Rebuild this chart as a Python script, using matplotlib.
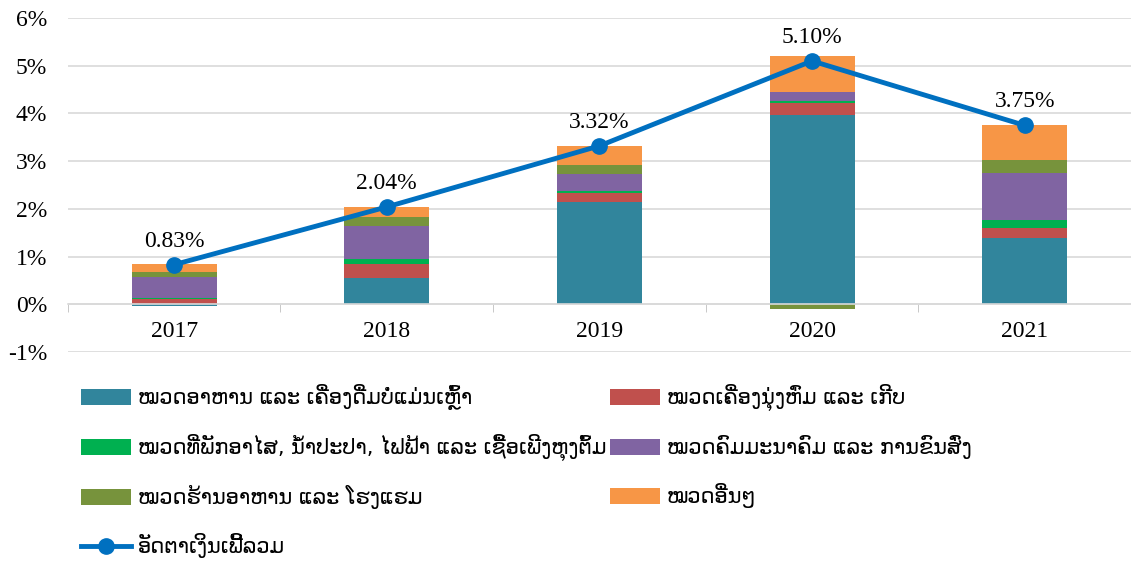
import matplotlib.pyplot as plt
import numpy as np

years = ['2017', '2018', '2019', '2020', '2021']
labels = ['ໝວດອາຫານ ແລະ ເຄື່ອງດື່ມບໍ່ແມ່ນເຫຼົ້າ',
          'ໝວດເຄື່ອງນຸ່ງຫົ່ມ ແລະ ເກີບ',
          'ໝວດທີ່ພັກອາໄສ, ນ້ຳປະປາ, ໄຟຟ້າ ແລະ ເຊື້ອເພີງຫຸງຕົ້ມ',
          'ໝວດຄົມມະນາຄົມ ແລະ ການຂົນສົ່ງ',
          'ໝວດຮ້ານອາຫານ ແລະ ໂຮງແຮມ',
          'ໝວດອື່ນໆ']
line_label = 'ອັດຕາເງິນເຟີ້ລວມ'

food = [-0.03, 0.56, 2.15, 3.97, 1.38]
clothing = [0.10, 0.29, 0.19, 0.25, 0.21]
housing = [0.03, 0.10, 0.04, 0.04, 0.17]
transport = [0.45, 0.68, 0.35, 0.18, 0.99]
restaurant = [0.10, 0.20, 0.18, -0.09, 0.27]
other = [0.16, 0.20, 0.41, 0.76, 0.73]
inflation = [0.83, 2.04, 3.32, 5.10, 3.75]

colors = ['#31859C', '#C0504D', '#00B050', '#8064A2', '#77933C', '#F79646']

plt.rcParams['font.family'] = ['Liberation Serif', 'DejaVu Sans']

fig = plt.figure(figsize=(11.31, 5.64), dpi=100)
ax = fig.add_axes([0.060, 0.376, 0.940, 0.592])

x = np.arange(len(years))
series = [food, clothing, housing, transport, restaurant, other]
pos = np.zeros(len(years))
neg = np.zeros(len(years))
bars = []
for vals, c, lab in zip(series, colors, labels):
    v = np.array(vals)
    bottom = np.where(v >= 0, pos, neg)
    b = ax.bar(x, v, 0.4, bottom=bottom, color=c, label=lab, zorder=2)
    bars.append(b)
    pos = pos + np.where(v >= 0, v, 0)
    neg = neg + np.where(v < 0, v, 0)

ln, = ax.plot(x, inflation, color='#0070C0', lw=3.5, marker='o', ms=11, zorder=3, label=line_label)
for xi, yi in zip(x, inflation):
    ax.annotate(f'{yi:.2f}%', (xi, yi), xytext=(0, 17), textcoords='offset points',
                ha='center', va='center', fontsize=17)

ax.set_xlim(-0.5, 4.5)
ax.set_ylim(-1, 6)
ax.set_yticks(range(-1, 7))
ax.set_yticklabels([f'{v}%' for v in range(-1, 7)])
ax.yaxis.grid(True, color='#D9D9D9', lw=1.2, zorder=0)
ax.set_axisbelow(True)
ax.tick_params(axis='y', length=0, pad=15, labelsize=17)

ax.set_xticks(x)
ax.set_xticklabels(years)
ax.set_xticks(np.arange(-0.5, 5, 1), minor=True)
ax.tick_params(axis='x', which='major', length=0, pad=12, labelsize=17)
ax.tick_params(axis='x', which='minor', length=6, color='#BFBFBF')
for s in ['top', 'right', 'left']:
    ax.spines[s].set_visible(False)
ax.spines['bottom'].set_position(('data', 0))
ax.spines['bottom'].set_color('#D9D9D9')
ax.spines['bottom'].set_linewidth(1.2)

handles = [bars[0], bars[2], bars[4], ln, bars[1], bars[3], bars[5]]
fig.legend(handles, [h.get_label() for h in handles], ncol=2,
           loc='upper left', bbox_to_anchor=(0.055, 0.352), frameon=False,
           prop={'family': 'DejaVu Sans', 'size': 15},
           handlelength=2.4, handleheight=0.77, handletextpad=0.35,
           labelspacing=1.15, columnspacing=0.15)

fig.savefig('out.png', dpi=100)
